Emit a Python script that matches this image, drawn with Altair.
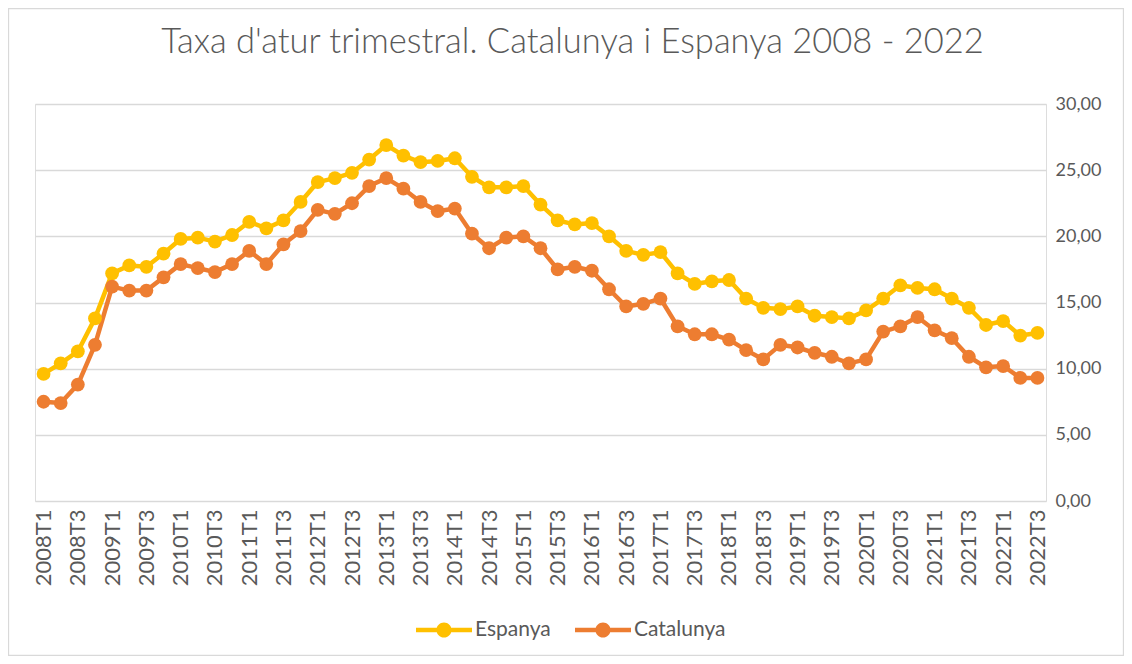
import altair as alt
import pandas as pd

quarters = [f"{y}T{q}" for y in range(2008, 2023) for q in range(1, 5)][:59]

espanya = [9.6, 10.4, 11.3, 13.8, 17.2, 17.8, 17.7, 18.7, 19.8, 19.9, 19.6, 20.1,
           21.1, 20.6, 21.2, 22.6, 24.1, 24.4, 24.8, 25.8, 26.9, 26.1, 25.6, 25.7,
           25.9, 24.5, 23.7, 23.7, 23.8, 22.4, 21.2, 20.9, 21.0, 20.0, 18.9, 18.6,
           18.8, 17.2, 16.4, 16.6, 16.7, 15.3, 14.6, 14.5, 14.7, 14.0, 13.9, 13.8,
           14.4, 15.3, 16.3, 16.1, 16.0, 15.3, 14.6, 13.3, 13.6, 12.5, 12.7]

catalunya = [7.5, 7.4, 8.8, 11.8, 16.2, 15.9, 15.9, 16.9, 17.9, 17.6, 17.3, 17.9,
             18.9, 17.9, 19.4, 20.4, 22.0, 21.7, 22.5, 23.8, 24.4, 23.6, 22.6, 21.9,
             22.1, 20.2, 19.1, 19.9, 20.0, 19.1, 17.5, 17.7, 17.4, 16.0, 14.7, 14.9,
             15.3, 13.2, 12.6, 12.6, 12.2, 11.4, 10.7, 11.8, 11.6, 11.2, 10.9, 10.4,
             10.7, 12.8, 13.2, 13.9, 12.9, 12.3, 10.9, 10.1, 10.2, 9.3, 9.3]

series_names = ["Espanya", "Catalunya"]
series_colors = ["#FFC000", "#ED7D31"]
y_ticks = [0, 5, 10, 15, 20, 25, 30]

rows = []
for name, vals in zip(series_names, [espanya, catalunya]):
    for q, v in zip(quarters, vals):
        rows.append({"trimestre": q, "serie": name, "taxa": v})
df = pd.DataFrame(rows)

FONT = "Lato"
GREY = "#595959"

x_enc = alt.X("trimestre:N", sort=quarters, title=None,
              scale=alt.Scale(type="point", padding=0.5),
              axis=alt.Axis(values=quarters[::2], labelAngle=270, labelAlign="right",
                            labelBaseline="middle", labelPadding=8, labelFontSize=22,
                            labelColor=GREY, labelFont=FONT, domain=False, ticks=False,
                            grid=False, labelOverlap=False))
y_enc = alt.Y("taxa:Q", title=None,
              scale=alt.Scale(domain=[0, 30], nice=False),
              axis=alt.Axis(orient="right", values=y_ticks, grid=True, gridColor="#d9d9d9",
                            gridWidth=1.3, domain=False, ticks=False, labelPadding=9,
                            labelFontSize=18, labelColor=GREY, labelFont=FONT,
                            labelExpr="replace(format(datum.value, '.2f'), '.', ',')"))
color_scale = alt.Scale(domain=series_names, range=series_colors)

legend_path = ("M-1,-0.08L-0.25,-0.08L-0.25,0.08L-1,0.08Z "
               "M0.25,-0.08L1,-0.08L1,0.08L0.25,0.08Z "
               "M-0.27,0A0.27,0.27 0 1,1 0.27,0A0.27,0.27 0 1,1 -0.27,0Z")

line_layers = []
for name, col in zip(series_names, series_colors):
    line_layers.append(
        alt.Chart(df).transform_filter(alt.datum.serie == name)
        .mark_line(strokeWidth=4.5, strokeJoin="round", strokeCap="round", color=col)
        .encode(x=x_enc, y=y_enc)
    )

points = alt.Chart(df).mark_circle(size=190, opacity=1).encode(
    x=x_enc, y=y_enc,
    color=alt.Color("serie:N", scale=color_scale, sort=series_names, title=None,
                    legend=alt.Legend(orient="none", direction="horizontal",
                                      legendX=381, legendY=498,
                                      symbolType=legend_path, symbolSize=3136,
                                      symbolStrokeWidth=0, symbolOpacity=1,
                                      labelFontSize=21, labelColor=GREY, labelFont=FONT,
                                      labelOffset=3, columnPadding=24)),
)

border = alt.Chart(alt.Data(values=[{"a": 1}])).mark_rect(
    fill=None, stroke="#d9d9d9", strokeWidth=1.3
).encode(x=alt.value(-26.5), x2=alt.value(1088.5), y=alt.value(-95.5), y2=alt.value(551.5))

chart = alt.layer(border, *line_layers, points).properties(
    width=1011, height=397,
    padding={"left": 27, "top": 96, "right": 78, "bottom": 155},
    autosize=alt.AutoSizeParams(type="none"),
    title=alt.Title("Taxa d'atur trimestral. Catalunya i Espanya 2008 - 2022",
                    fontSize=34.5, font=FONT, fontWeight=300, color=GREY,
                    anchor="middle", frame="group", dx=32, offset=-80,
                    baseline="alphabetic"),
).configure_view(strokeWidth=0).configure(background="white")

chart.save("out.html", embed_options={"renderer": "svg", "actions": False})
